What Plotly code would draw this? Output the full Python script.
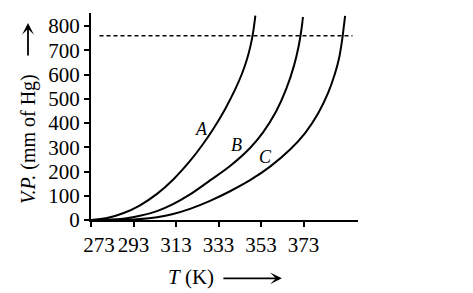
import plotly.graph_objects as go

# Curve A
T_A = [273, 280.53, 288.06, 296.06, 304.06, 311.59, 319.59, 325.71, 330.88, 336.06, 340.76, 344.06, 346.41, 348.06, 349.24, 349.94, 350.32]
V_A = [0, 7.85, 27.7, 60.8, 107.9, 166.2, 243.5, 313.4, 380.7, 457.2, 537.8, 604.4, 664.3, 719.3, 773, 816.5, 842.9]
# Curve B
T_B = [273, 281.94, 289.0, 296.06, 304.06, 311.59, 319.59, 329.0, 338.41, 347.82, 353.94, 360.06, 364.76, 368.53, 370.65, 371.76, 372.47, 372.71]
V_B = [0, 1.65, 6.6, 17.2, 36.8, 65.3, 105.4, 163.3, 222.8, 297.2, 361.7, 447.7, 538.7, 637.9, 716, 772.6, 818.9, 837.5]
# Curve C
T_C = [273, 288.06, 296.06, 304.06, 311.59, 319.59, 329.0, 338.41, 347.82, 357.24, 366.65, 373.71, 379.82, 384.53, 387.82, 389.71, 391.12, 391.98, 392.53]
V_C = [0, 0.8, 3.7, 11.6, 24.8, 45.9, 79, 118.6, 164.1, 220.3, 290.6, 358.8, 439.4, 524.2, 605.2, 668, 742.5, 802, 841.7]

# Atmospheric pressure line (760 mm of Hg)
atm_T = [277, 396]
atm_V = [760, 760]

# Curve labels
label_text = ["A", "B", "C"]
label_T = [325.1, 341.6, 354.9]
label_V = [377, 308, 260]

x_ticks = [273, 293, 313, 333, 353, 373]
x_ticktext = ["\u00a0\u00a0\u00a0273", "293", "313", "333", "353", "373"]
y_ticks = [0, 100, 200, 300, 400, 500, 600, 700, 800]

x_title = "<i>T</i> (K)"
y_title = "<i>V.P.</i> (mm of Hg)"

FONT = "Liberation Serif"

fig = go.Figure()
for T, V in [(T_A, V_A), (T_B, V_B), (T_C, V_C)]:
    fig.add_trace(go.Scatter(x=T, y=V, mode="lines",
                             line=dict(color="black", width=2, shape="spline", smoothing=1.0),
                             showlegend=False, hoverinfo="skip"))

fig.add_trace(go.Scatter(x=atm_T, y=atm_V, mode="lines",
                         line=dict(color="black", width=1.5, dash="4px,3px"),
                         showlegend=False, hoverinfo="skip"))

for t, x, y in zip(label_text, label_T, label_V):
    fig.add_annotation(x=x, y=y, text=f"<i>{t}</i>", showarrow=False,
                       font=dict(family=FONT, size=18, color="black"))

# Axis titles (as annotations, with separate long arrows)
fig.add_annotation(xref="paper", yref="paper", x=0.376, y=-0.275, text=x_title,
                   xanchor="center", yanchor="middle",
                   showarrow=False, font=dict(family=FONT, size=21, color="black"))
fig.add_annotation(xref="paper", yref="paper", x=0.715, y=-0.282, text="",
                   showarrow=True, ax=-60, ay=0, arrowhead=3, arrowsize=1.1,
                   arrowwidth=1.8, arrowcolor="black", standoff=0)
fig.add_annotation(xref="paper", yref="paper", x=-0.236, y=0.391, text=y_title,
                   xanchor="center", yanchor="middle",
                   textangle=-90, showarrow=False, font=dict(family=FONT, size=20, color="black"))
fig.add_annotation(xref="paper", yref="paper", x=-0.236, y=0.952, text="",
                   showarrow=True, ax=0, ay=34, arrowhead=3, arrowsize=1.1,
                   arrowwidth=1.8, arrowcolor="black", standoff=0)

fig.update_layout(
    width=473, height=293,
    margin=dict(l=91, r=115, t=13, b=73),
    paper_bgcolor="white", plot_bgcolor="white",
    font=dict(family=FONT, color="black", size=21),
    xaxis=dict(range=[273, 398.6], tickvals=x_ticks, ticktext=x_ticktext,
               showgrid=False, zeroline=False, showline=True, linecolor="black", linewidth=2,
               ticks="outside", ticklen=5, tickwidth=1.5, tickcolor="black",
               tickfont=dict(family=FONT, size=21, color="black")),
    yaxis=dict(range=[0, 854], tickvals=y_ticks,
               showgrid=False, zeroline=False, showline=True, linecolor="black", linewidth=2,
               ticks="outside", ticklen=5, tickwidth=1.5, tickcolor="black",
               tickfont=dict(family=FONT, size=21, color="black")),
)

fig.write_html("out.html")
